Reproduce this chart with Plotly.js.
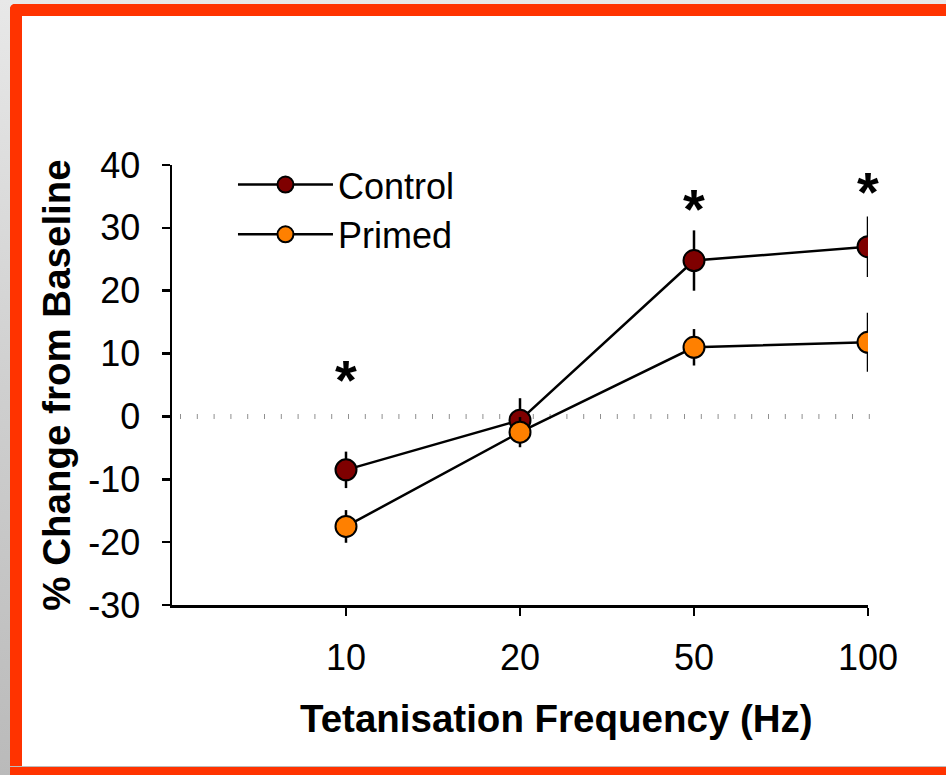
<!DOCTYPE html>
<html>
<head>
<meta charset="utf-8">
<script src="https://cdn.plot.ly/plotly-3.0.1.min.js"></script>
<style>
  html, body { margin: 0; padding: 0; width: 946px; height: 775px; overflow: hidden; }
  body { background: linear-gradient(to bottom, #e8e8e8 0%, #cfcfcf 50%, #bababa 100%); position: relative; }
  #frame { position: absolute; left: 10px; top: 4px; width: 1000px; height: 800px;
           border-top: 12px solid #ff3300; border-left: 12px solid #ff3300;
           border-top-left-radius: 5px; background: #ffffff; box-sizing: border-box; }
  #bottom { position: absolute; left: 10px; top: 766px; width: 1000px; height: 1px; background: #bdbdbd; }
  #bottom2 { position: absolute; left: 10px; top: 767px; width: 1000px; height: 10px; background: #ff3300; }
  #chart { position: absolute; left: 0; top: 0; width: 946px; height: 775px; }
</style>
</head>
<body>
<div id="frame"></div>
<div id="bottom"></div>
<div id="bottom2"></div>
<div id="chart"></div>
<script>
// ---- data ----
const frequencies = ["10", "20", "50", "100"];
const controlMean = [-8.5, -0.6, 24.8, 27.0];
const controlErr  = [2.9, 3.5, 4.8, 4.8];
const primedMean  = [-17.5, -2.5, 11.0, 11.8];
const primedErr   = [2.6, 2.4, 2.9, 4.7];
const sigFreq     = ["10", "50", "100"];
const sigY        = [6.8, 34.1, 36.7];
const seriesNames = ["Control", "Primed"];
const yTickVals   = [-30, -20, -10, 0, 10, 20, 30, 40];
const yTickText   = ["-30", "-20", "-10", "0", "10", "20", "30", "40"];

const FONT = "Liberation Sans, Arial, sans-serif";

const traces = [
  {
    x: frequencies, y: controlMean, name: seriesNames[0], type: "scatter", mode: "lines+markers",
    line: { color: "#000000", width: 2.5 },
    marker: { color: "#7f0000", size: 21, line: { color: "#000000", width: 2 } },
    error_y: { type: "data", array: controlErr, visible: true, color: "#000000", thickness: 2.5, width: 0 }
  },
  {
    x: frequencies, y: primedMean, name: seriesNames[1], type: "scatter", mode: "lines+markers",
    line: { color: "#000000", width: 2.5 },
    marker: { color: "#ff8000", size: 21, line: { color: "#000000", width: 2 } },
    error_y: { type: "data", array: primedErr, visible: true, color: "#000000", thickness: 2.5, width: 0 }
  }
];

const annotations = sigFreq.map((f, i) => ({
  x: frequencies.indexOf(f), y: sigY[i], xref: "x", yref: "y", text: "<b>*</b>", showarrow: false,
  font: { family: FONT, size: 56, color: "#000000" }, yanchor: "middle", yshift: -6
}));
annotations.push({
  x: 0.552, y: -0.257, xref: "paper", yref: "paper", text: "<b>Tetanisation Frequency (Hz)</b>",
  showarrow: false, font: { family: FONT, size: 38.5, color: "#000000" }, xanchor: "center", yanchor: "middle"
});

const layout = {
  width: 946, height: 775,
  paper_bgcolor: "rgba(0,0,0,0)", plot_bgcolor: "rgba(0,0,0,0)",
  margin: { l: 172, r: 78, t: 165, b: 170, pad: 0 },
  font: { family: FONT, color: "#000000" },
  showlegend: true,
  legend: {
    x: 0.0876, y: 1.0236, xanchor: "left", yanchor: "top",
    font: { family: FONT, size: 36, color: "#000000" },
    bgcolor: "rgba(0,0,0,0)", itemwidth: 95, traceorder: "normal"
  },
  xaxis: {
    type: "category", range: [-1, 3], showgrid: false, zeroline: false,
    showline: true, linecolor: "#000000", linewidth: 2.5,
    ticks: "outside", ticklen: 8, tickwidth: 2.5, tickcolor: "#000000",
    tickfont: { family: FONT, size: 36, color: "#000000" }, ticklabelstandoff: 11,
    fixedrange: true
  },
  yaxis: {
    range: [-30, 40], tickmode: "array", tickvals: yTickVals, ticktext: yTickText,
    showgrid: false, zeroline: false,
    showline: true, linecolor: "#000000", linewidth: 2.5,
    ticks: "outside", ticklen: 8, tickwidth: 2.5, tickcolor: "#000000",
    tickfont: { family: FONT, size: 36, color: "#000000" }, ticklabelstandoff: 14,
    title: { text: "<b>% Change from Baseline</b>", font: { family: FONT, size: 38.5, color: "#000000" }, standoff: 6 },
    automargin: false, fixedrange: true
  },
  shapes: [{
    type: "line", xref: "paper", yref: "y", x0: 0.0115, x1: 1.014, y0: 0, y1: 0,
    line: { color: "#8f8f8f", width: 5, dash: "1px,15.8px" }, layer: "below"
  }],
  annotations: annotations
};

Plotly.newPlot("chart", traces, layout, { displayModeBar: false, staticPlot: true });
</script>
</body>
</html>
